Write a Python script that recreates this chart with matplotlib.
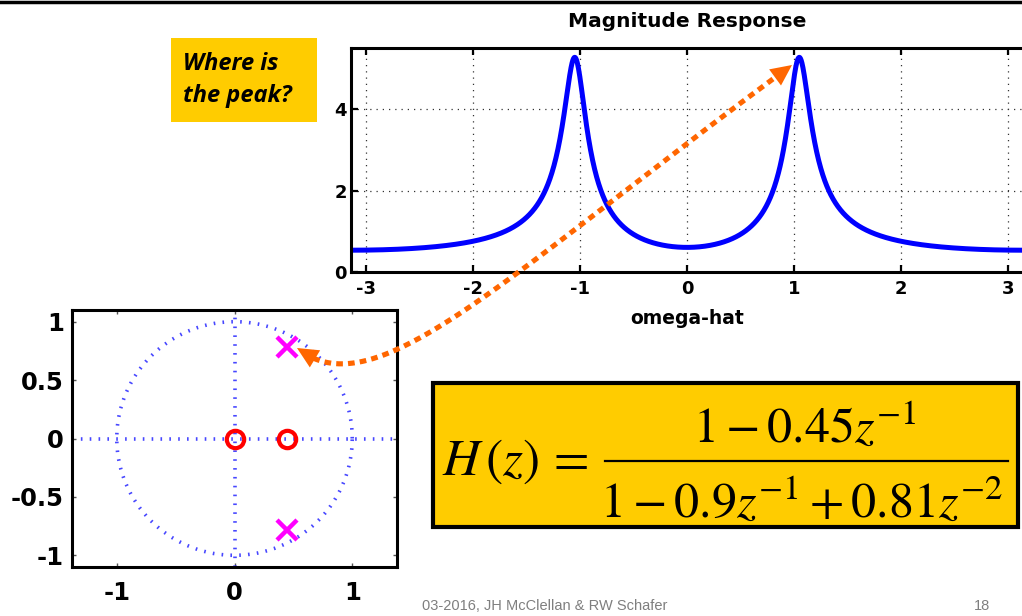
import numpy as np
import matplotlib
matplotlib.use("Agg")
from matplotlib import pyplot as plt
from matplotlib.patches import Rectangle, Polygon
from matplotlib.lines import Line2D

plt.rcParams['mathtext.fontset'] = 'stix'

# filter coefficients in powers of z^-1
b_coef = [1.0, -0.45]
a_coef = [1.0, -0.9, 0.81]

mag_xticks = [-3, -2, -1, 0, 1, 2, 3]
mag_yticks = [0, 2, 4]
pz_xticks = [-1, 0, 1]
pz_yticks = [-1, -0.5, 0, 0.5, 1]
pz_ylabels = ['-1', '-0.5', '0', '0.5', '1']

W, H = 1022, 616
YELLOW = '#FFCC00'
ORANGE = '#FF6600'


def px(x, y):
    # pixel position (from top-left) -> figure fraction
    return x / W, 1 - y / H


# frequency response on -pi..pi
w = np.linspace(-np.pi, np.pi, 2001)
zinv = np.exp(-1j * w)
num = np.polyval(b_coef[::-1], zinv)
den = np.polyval(a_coef[::-1], zinv)
mag = np.abs(num / den)

# zeros and poles in the z-plane
zeros = np.roots(b_coef + [0.0] * (len(a_coef) - len(b_coef)))
poles = np.roots(a_coef)

fig = plt.figure(figsize=(W / 100, H / 100), dpi=100)

# ---- magnitude response ----
ax = fig.add_axes([351 / W, 1 - 272 / H, (1023 - 351) / W, 224 / H])
ax.plot(w, mag, color='#0000FF', lw=3.6, solid_capstyle='butt')
ax.set_xlim(-np.pi, np.pi)
ax.set_ylim(0, 5.5)
ax.set_xticks(mag_xticks, [str(t) for t in mag_xticks])
ax.set_yticks(mag_yticks, [str(t) for t in mag_yticks])
ax.grid(True, color='#333333', linestyle=(0, (1, 4)), lw=0.9)
ax.tick_params(direction='in', length=5, width=1.6, top=True, right=False,
               labelsize=13, pad=6)
ax.tick_params(axis='y', pad=3)
for lab in ax.get_xticklabels() + ax.get_yticklabels():
    lab.set_fontweight('bold')
for s in ax.spines.values():
    s.set_linewidth(2.2)
ax.spines['right'].set_visible(False)
ax.set_title('Magnitude Response', fontsize=14.5, fontweight='bold', pad=15)
ax.set_xlabel('omega-hat', fontsize=13.5, fontweight='bold', labelpad=8)

# ---- pole-zero plot ----
pz = fig.add_axes([72 / W, 1 - 567 / H, 325 / W, 257 / H])
t = np.linspace(0, 2 * np.pi, 400)
dots = dict(color='#2626FF', lw=2.6, linestyle=(0, (0.45, 2.0)), alpha=0.85)
pz.plot(np.cos(t), np.sin(t), **dots)
pz.axhline(0, **dots)
pz.axvline(0, **dots)
pz.plot(zeros.real, zeros.imag, 'o', ms=12.5, mfc='none', mec='#FF0000', mew=3)
pz.plot(poles.real, poles.imag, 'x', ms=14, mec='#FF00FF', mew=3.2)
pz.set_xlim(-1.38, 1.38)
pz.set_ylim(-1.1, 1.1)
pz.set_xticks(pz_xticks, [str(t) for t in pz_xticks])
pz.set_yticks(pz_yticks, pz_ylabels)
pz.tick_params(direction='in', length=3, width=1, color='#555555',
               top=True, right=True, labelsize=17.5, pad=6)
pz.tick_params(axis='x', pad=10)
for lab in pz.get_xticklabels() + pz.get_yticklabels():
    lab.set_fontweight('bold')
for s in pz.spines.values():
    s.set_linewidth(2.2)

# black rule along the top
fig.add_artist(Line2D([0, 1], [1 - 1.5 / H] * 2, color='black', lw=2.5,
                      transform=fig.transFigure))

# question box
x0, y0 = px(171, 122)
x1, y1 = px(317, 38)
fig.add_artist(Rectangle((x0, y0), x1 - x0, y1 - y0, facecolor=YELLOW,
                         edgecolor='none', transform=fig.transFigure))
for txt, yy in [('Where is', 70), ('the peak?', 102)]:
    fig.text(*px(183, yy), txt, fontsize=17, fontweight='bold',
             fontstyle='italic', family=['Open Sans', 'DejaVu Sans'],
             va='baseline', ha='left')

# transfer function box
x0, y0 = px(433, 527)
x1, y1 = px(1018, 383)
fig.add_artist(Rectangle((x0, y0), x1 - x0, y1 - y0, facecolor=YELLOW,
                         edgecolor='black', lw=3, transform=fig.transFigure,
                         zorder=3))
fig.text(*px(442, 475), r'$H\,(z)\,=$', fontsize=37, va='baseline',
         ha='left', zorder=4)
fig.text(*px(805, 442), r'$1-0.45z^{-1}$', fontsize=36, va='baseline',
         ha='center', zorder=4)
fig.text(*px(802, 517), r'$1-0.9z^{-1}+0.81z^{-2}$', fontsize=36,
         va='baseline', ha='center', zorder=4)
fx0, fy = px(605, 461)
fx1, _ = px(1008, 461)
fig.add_artist(Line2D([fx0, fx1], [fy, fy], color='black', lw=1.6,
                      transform=fig.transFigure, zorder=4))

# curved pointer between the peak and the pole (pixel space, y down)
ctrl = np.array([[297, 348], [375, 412], [505, 275], [792, 65]], float)
s = np.linspace(0, 1, 600)[:, None]
curve = ((1 - s) ** 3 * ctrl[0] + 3 * (1 - s) ** 2 * s * ctrl[1]
         + 3 * (1 - s) * s ** 2 * ctrl[2] + s ** 3 * ctrl[3])
seg = np.r_[0, np.cumsum(np.hypot(*np.diff(curve, axis=0).T))]
head_len, head_half = 21, 10


def head(tip_idx, base_dist):
    tip = curve[tip_idx]
    base = curve[np.argmin(np.abs(seg - base_dist))]
    d = (tip - base) / np.hypot(*(tip - base))
    base = tip - d * head_len
    n = np.array([-d[1], d[0]])
    pts = [tip, base + n * head_half, base - n * head_half]
    return Polygon([px(*p) for p in pts], closed=True, facecolor=ORANGE,
                   edgecolor='none', transform=fig.transFigure, zorder=5)


fig.add_artist(head(0, head_len))
fig.add_artist(head(-1, seg[-1] - head_len))
keep = (seg > head_len - 2) & (seg < seg[-1] - head_len + 2)
line_pts = np.array([px(*p) for p in curve[keep]])
fig.add_artist(Line2D(line_pts[:, 0], line_pts[:, 1], color=ORANGE, lw=3.7,
                      linestyle=(0, (1.3, 1.0)), dash_capstyle='butt',
                      transform=fig.transFigure, zorder=5))

# footer
fig.text(*px(422, 610), '03-2016, JH McClellan & RW Schafer', fontsize=10.5,
         color='#7F7F7F', family='Liberation Sans', va='baseline')
fig.text(*px(990, 610), '18', fontsize=10.5, color='#7F7F7F',
         family='Liberation Sans', va='baseline', ha='right')

fig.savefig('out.png', dpi=100)
